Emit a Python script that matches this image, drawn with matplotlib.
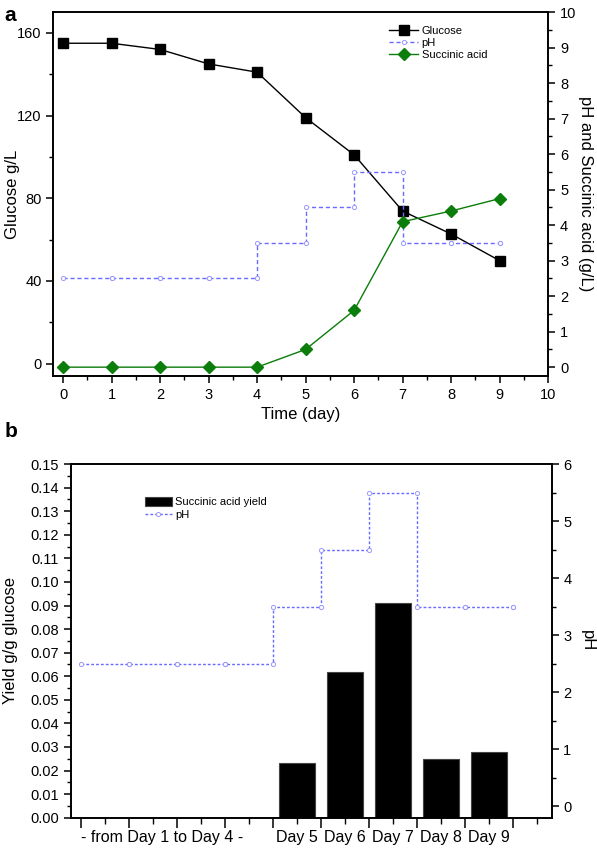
import matplotlib
matplotlib.use("Agg")
import matplotlib.pyplot as plt
from matplotlib.ticker import MultipleLocator
import numpy as np

plt.rcParams["font.family"] = ["Liberation Sans", "DejaVu Sans"]

days = [0, 1, 2, 3, 4, 5, 6, 7, 8, 9]
glucose = [155, 155, 152, 145, 141, 119, 101, 73.8, 62.7, 49.8]
succinic = [0, 0, 0, 0, 0, 0.5, 1.6, 4.1, 4.4, 4.75]
ph = [2.5, 2.5, 2.5, 2.5, 3.5, 4.5, 5.5, 3.5, 3.5, 3.5]

yield_days = ["Day 5", "Day 6", "Day 7", "Day 8", "Day 9"]
yield_pos = [4.5, 5.5, 6.5, 7.5, 8.5]
yield_vals = [0.023, 0.062, 0.091, 0.025, 0.028]
first_label = "- from Day 1 to Day 4 -"

PH_COLOR = "#6a6aff"
GREEN = "#0a7d0a"


def step_vertices(x, y):
    # corners of a steps-post line, so markers sit on each corner
    xs, ys = [], []
    for i in range(len(x)):
        xs.append(x[i])
        ys.append(y[i])
        if i < len(x) - 1:
            xs.append(x[i + 1])
            ys.append(y[i])
    return np.array(xs, dtype=float), np.array(ys, dtype=float)


def style_axis(ax, fs=10.5):
    for sp in ax.spines.values():
        sp.set_linewidth(1.2)
    ax.tick_params(which="major", direction="out", length=5, width=1.1,
                   labelsize=fs)
    ax.tick_params(which="minor", direction="out", length=3, width=1.0)


fig = plt.figure(figsize=(5.97, 8.5), dpi=100)

# ---------------- panel a ----------------
ax1 = fig.add_axes([0.0893, 0.5576, 0.829, 0.428])
ax2 = ax1.twinx()

ph_x, ph_y = step_vertices(days, ph)

l1, = ax1.plot(days, glucose, color="black", lw=1.0, marker="s",
               markersize=6.5, label="Glucose", zorder=5)
l2, = ax2.plot(ph_x, ph_y, color=PH_COLOR, lw=1.0, ls=(0, (3, 2)),
               marker="o", markersize=3, markerfacecolor="white",
               markeredgecolor="#9a9aff", markeredgewidth=0.7, label="pH")
l3, = ax2.plot(days, succinic, color=GREEN, lw=1.0, marker="D",
               markersize=6, label="Succinic acid")

ax1.set_xlim(-0.2, 10)
ax1.set_ylim(-6, 170)
ax2.set_ylim(-0.25, 10)
ax1.xaxis.set_major_locator(MultipleLocator(1))
ax1.xaxis.set_minor_locator(MultipleLocator(0.5))
ax1.yaxis.set_major_locator(MultipleLocator(40))
ax1.yaxis.set_minor_locator(MultipleLocator(20))
ax2.yaxis.set_major_locator(MultipleLocator(1))
ax2.yaxis.set_minor_locator(MultipleLocator(0.5))
style_axis(ax1)
style_axis(ax2)

ax1.set_xlabel("Time (day)", fontsize=12, labelpad=4)
ax1.set_ylabel("Glucose g/L", fontsize=12, va="center")
ax1.yaxis.set_label_coords(-0.083, 0.5)
ax2.set_ylabel("pH and Succinic acid (g/L)", fontsize=12, rotation=270,
               va="center")
ax2.yaxis.set_label_coords(1.076, 0.5)

ax1.legend(handles=[l1, l2, l3], loc="upper left",
           bbox_to_anchor=(0.67, 0.975), frameon=False, fontsize=8,
           handlelength=2.6, handletextpad=0.3, labelspacing=0.2,
           borderaxespad=0)

fig.text(0.008, 0.982, "a", fontsize=15, fontweight="bold", va="center")

# ---------------- panel b ----------------
bx1 = fig.add_axes([0.1189, 0.038, 0.805, 0.416])
bx2 = bx1.twinx()

bars = bx1.bar(yield_pos, yield_vals, width=0.76, color="black",
               edgecolor="#444444", linewidth=0.8, label="Succinic acid yield")
b2, = bx2.plot(ph_x, ph_y, color=PH_COLOR, lw=1.0, ls=(0, (2, 1.5)),
               marker="o", markersize=3, markerfacecolor="white",
               markeredgecolor="#9a9aff", markeredgewidth=0.7, label="pH")

bx1.set_xlim(-0.2, 9.8)
bx1.set_ylim(0, 0.15)
bx2.set_ylim(-0.2, 6)
bx1.xaxis.set_major_locator(MultipleLocator(1))
bx1.xaxis.set_minor_locator(MultipleLocator(0.5))
bx1.set_xticklabels([])
bx1.yaxis.set_major_locator(MultipleLocator(0.01))
bx1.yaxis.set_minor_locator(MultipleLocator(0.005))
bx1.yaxis.set_major_formatter(plt.FormatStrFormatter("%.2f"))
bx2.yaxis.set_major_locator(MultipleLocator(1))
bx2.yaxis.set_minor_locator(MultipleLocator(0.5))
style_axis(bx1)
style_axis(bx2)
bx1.tick_params(axis="x", which="major", length=7)
bx1.tick_params(axis="x", which="minor", length=4)

trans = bx1.get_xaxis_transform()
bx1.text(1.7, -0.035, first_label, transform=trans, ha="center", va="top",
         fontsize=11.5)
for pos, lab in zip(yield_pos, yield_days):
    bx1.text(pos, -0.035, lab, transform=trans, ha="center", va="top",
             fontsize=11.5)

bx1.set_ylabel("Yield g/g glucose", fontsize=12, va="center")
bx1.yaxis.set_label_coords(-0.126, 0.5)
bx2.set_ylabel("pH", fontsize=12, rotation=270, va="center")
bx2.yaxis.set_label_coords(1.075, 0.5)

bx1.legend(handles=[bars, b2], loc="upper left", bbox_to_anchor=(0.145, 0.92),
           frameon=False, fontsize=8, handlelength=2.4, handleheight=0.9,
           handletextpad=0.3, labelspacing=0.2, borderaxespad=0)

fig.text(0.008, 0.492, "b", fontsize=15, fontweight="bold", va="center")

fig.savefig("out.png", dpi=100)
